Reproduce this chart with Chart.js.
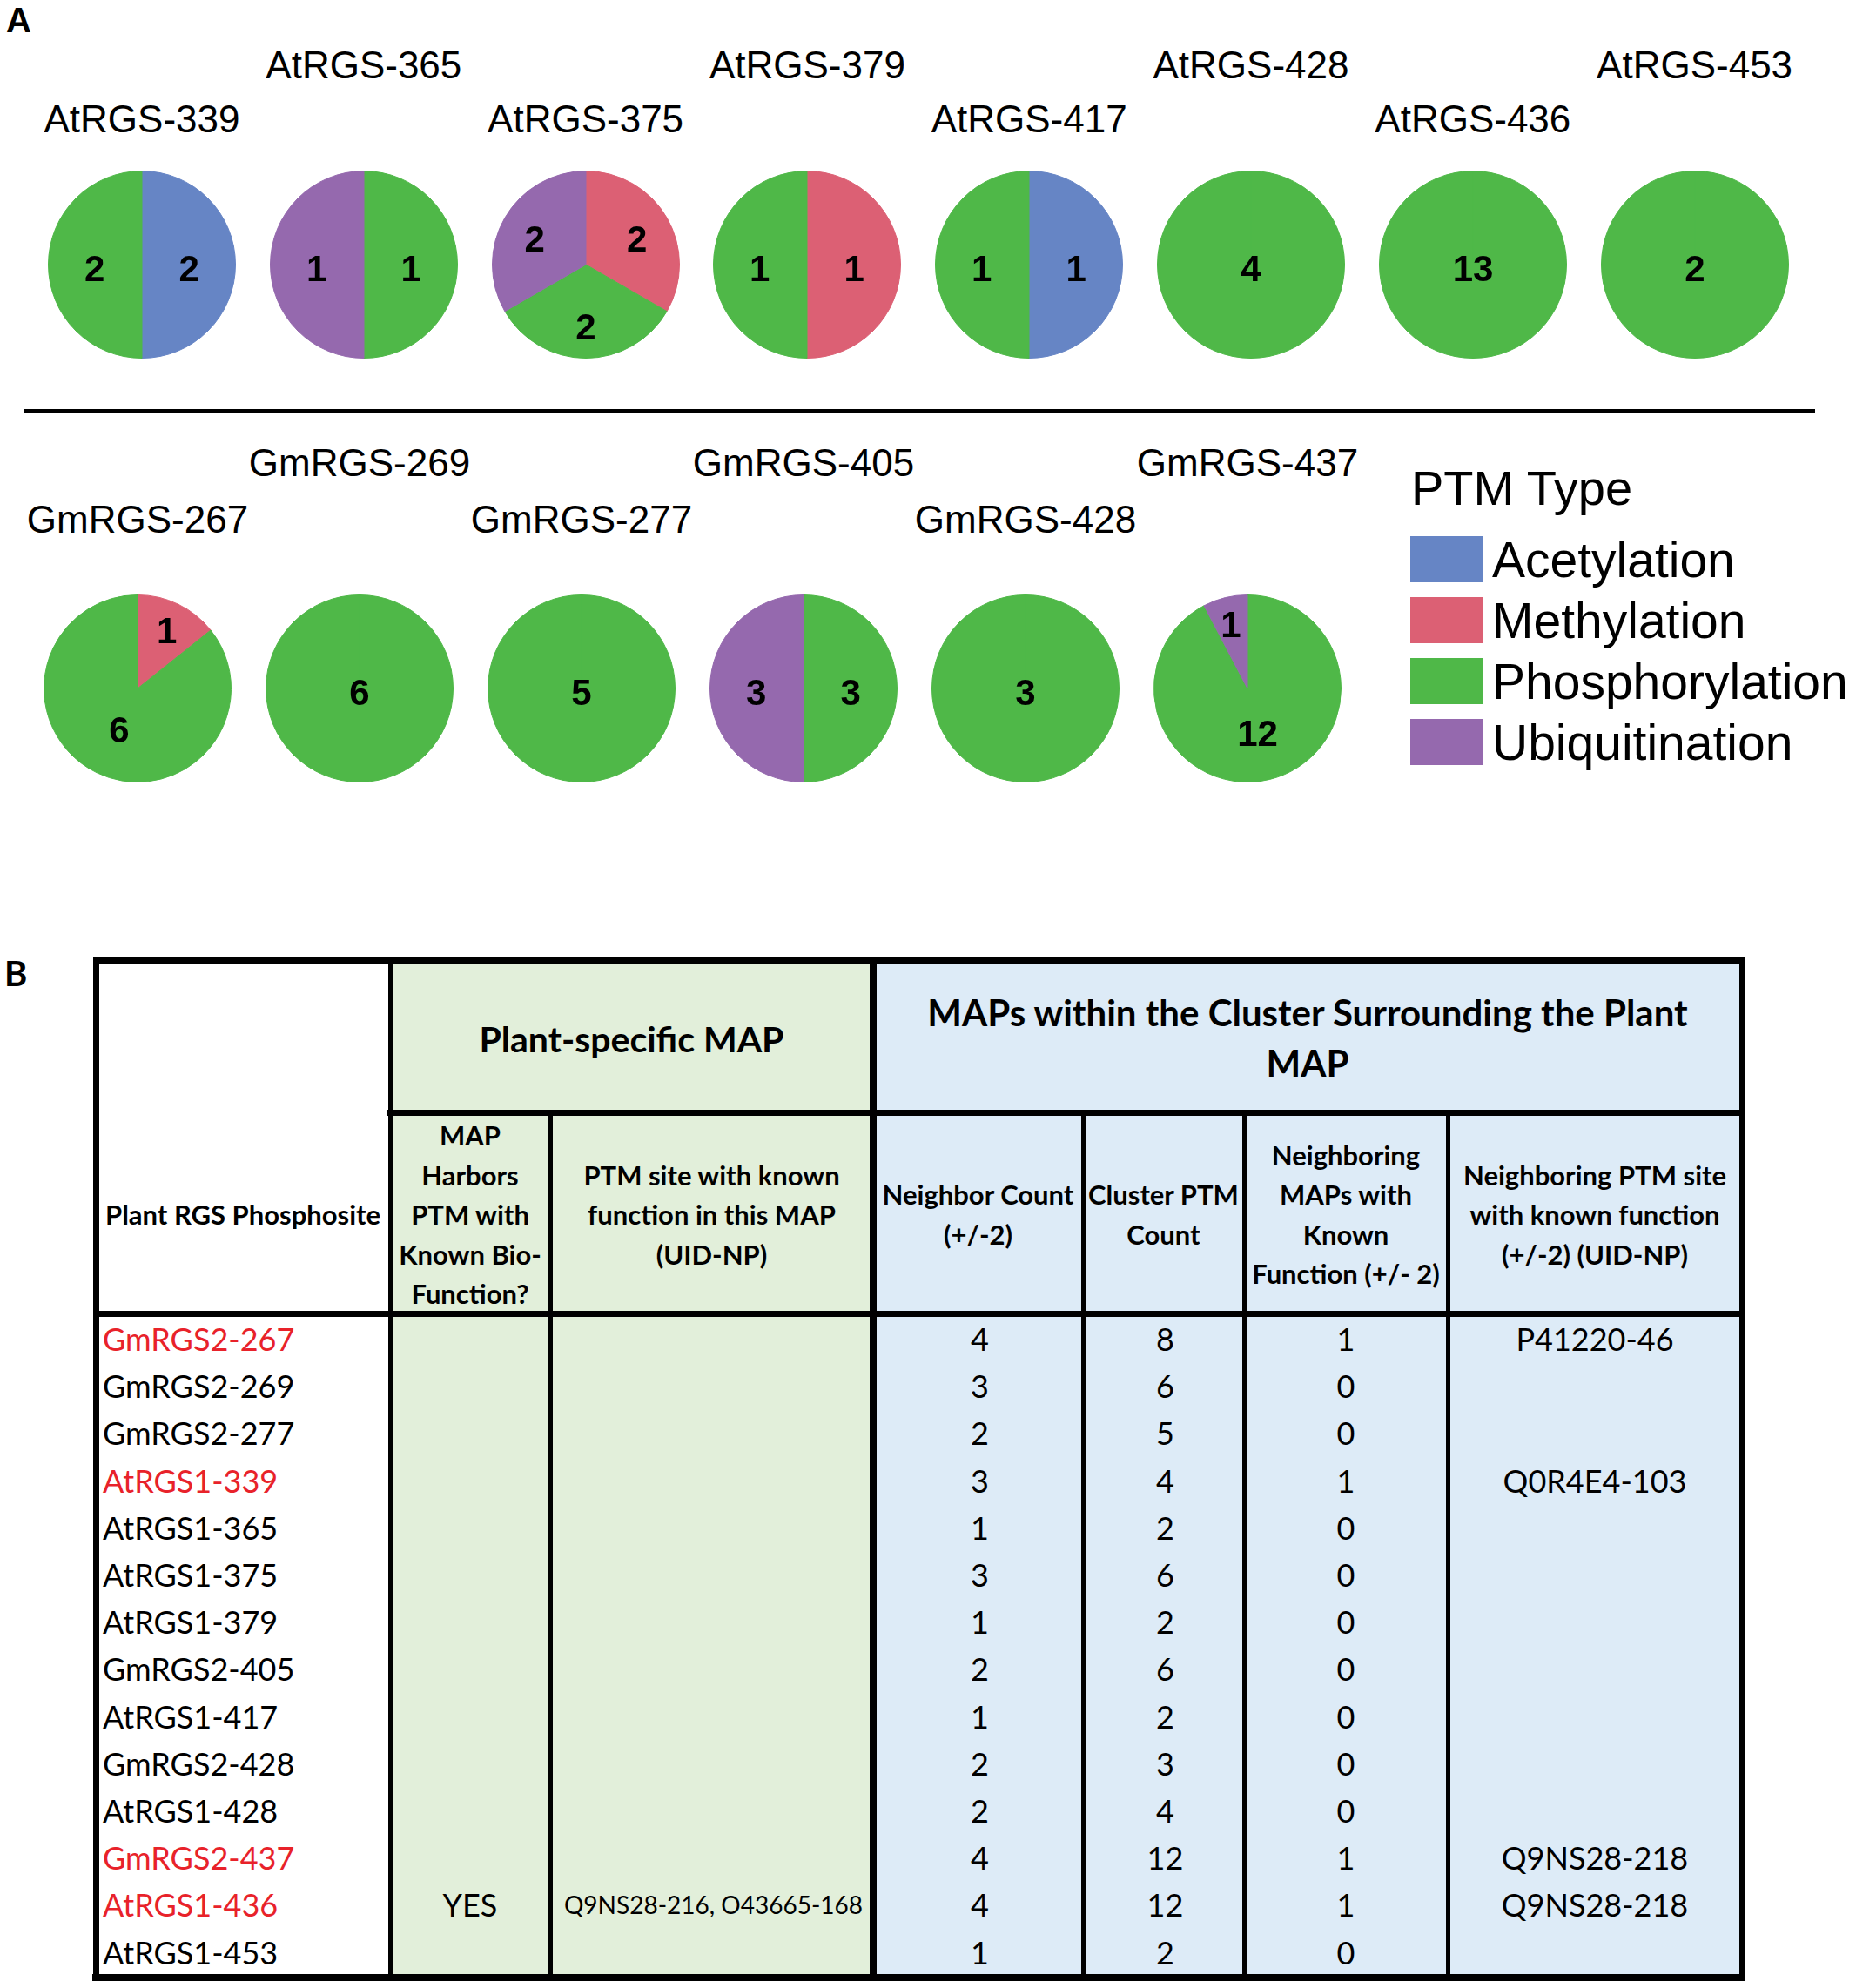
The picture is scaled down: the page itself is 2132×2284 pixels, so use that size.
<!DOCTYPE html>
<html>
<head>
<meta charset="utf-8">
<title>RGS PTM pies</title>
<script src="https://cdn.jsdelivr.net/npm/chart.js@4.4.0/dist/chart.umd.min.js"></script>
<style>
html, body { margin: 0; padding: 0; background: #fff; }
#page {
    position: relative;
    width: 2132px;
    height: 2284px;
    overflow: hidden;
    font-family: "Liberation Sans", Arial, sans-serif;
    color: #000;
}
.abs { position: absolute; white-space: nowrap; line-height: 1; }
.ctr { transform: translate(-50%, -50%); }
.mid { transform: translateY(-50%); }
.site { font-size: 44px; }
.panel { font-weight: bold; font-size: 40px; }
canvas.pie { position: absolute; }
.swatch { position: absolute; width: 84px; height: 53px; }
.legend-text { font-size: 57px; }
.tbl { font-family: Lato, "Open Sans", sans-serif; }
.hd { font-weight: bold; }
.rect { position: absolute; }
</style>
</head>
<body>
<div id="page"></div>

<script>

/* PTM types */

const ptmTypes = ["Acetylation", "Methylation", "Phosphorylation", "Ubiquitination"];
const ptmColors = ["#6685c5", "#dc6074", "#4fb848", "#9569ae"];


/* Arabidopsis pies (A, top row) */

const atSites = ["AtRGS-339", "AtRGS-365", "AtRGS-375", "AtRGS-379",
                 "AtRGS-417", "AtRGS-428", "AtRGS-436", "AtRGS-453"];
const atAcetylation     = [2, 0, 0, 0, 1, 0, 0, 0];
const atMethylation     = [0, 0, 2, 1, 0, 0, 0, 0];
const atPhosphorylation = [2, 1, 2, 1, 1, 4, 13, 2];
const atUbiquitination  = [0, 1, 2, 0, 0, 0, 0, 0];


/* Soybean pies (A, bottom row) */

const gmSites = ["GmRGS-267", "GmRGS-269", "GmRGS-277",
                 "GmRGS-405", "GmRGS-428", "GmRGS-437"];
const gmAcetylation     = [0, 0, 0, 0, 0, 0];
const gmMethylation     = [1, 0, 0, 0, 0, 0];
const gmPhosphorylation = [6, 6, 5, 3, 3, 12];
const gmUbiquitination  = [0, 0, 0, 3, 0, 1];


/* Table (B) */

const phosphosites = ["GmRGS2-267", "GmRGS2-269", "GmRGS2-277", "AtRGS1-339", "AtRGS1-365",
                      "AtRGS1-375", "AtRGS1-379", "GmRGS2-405", "AtRGS1-417", "GmRGS2-428",
                      "AtRGS1-428", "GmRGS2-437", "AtRGS1-436", "AtRGS1-453"];
const highlighted     = [true, false, false, true, false, false, false, false, false, false, false, true, true, false];
const harborsKnown    = ["", "", "", "", "", "", "", "", "", "", "", "", "YES", ""];
const knownSites      = ["", "", "", "", "", "", "", "", "", "", "", "", "Q9NS28-216, O43665-168", ""];
const neighborCount   = [4, 3, 2, 3, 1, 3, 1, 2, 1, 2, 2, 4, 4, 1];
const clusterPtmCount = [8, 6, 5, 4, 2, 6, 2, 6, 2, 3, 4, 12, 12, 2];
const neighborKnown   = [1, 0, 0, 1, 0, 0, 0, 0, 0, 0, 0, 1, 1, 0];
const neighborSites   = ["P41220-46", "", "", "Q0R4E4-103", "", "", "", "", "", "", "", "Q9NS28-218", "Q9NS28-218", ""];

const subHeaders = [
    ["Plant RGS Phosphosite"],
    ["MAP", "Harbors", "PTM with", "Known Bio-", "Function?"],
    ["PTM site with known", "function in this MAP", "(UID-NP)"],
    ["Neighbor Count", "(+/-2)"],
    ["Cluster PTM", "Count"],
    ["Neighboring", "MAPs with", "Known", "Function (+/- 2)"],
    ["Neighboring PTM site", "with known function", "(+/-2) (UID-NP)"]
];


const page = document.getElementById("page");

function addText(text, x, y, cls, style) {
    const el = document.createElement("div");
    el.className = "abs " + (cls || "");
    el.textContent = text;
    el.style.left = x + "px";
    el.style.top = y + "px";
    if (style) Object.assign(el.style, style);
    page.appendChild(el);
    return el;
}

function addRect(x, y, w, h, color) {
    const el = document.createElement("div");
    el.className = "rect";
    el.style.left = x + "px";
    el.style.top = y + "px";
    el.style.width = w + "px";
    el.style.height = h + "px";
    el.style.background = color;
    page.appendChild(el);
}

function hLine(x1, x2, y, w) { addRect(x1 - w / 2, y - w / 2, x2 - x1 + w, w, "#000"); }
function vLine(x, y1, y2, w) { addRect(x - w / 2, y1 - w / 2, w, y2 - y1 + w, "#000"); }


/* Slice value labels */

const sliceLabels = {
    id: "sliceLabels",
    afterDatasetsDraw(chart) {
        const ctx = chart.ctx;
        const values = chart.data.datasets[0].data;
        ctx.save();
        ctx.font = 'bold 42px "Liberation Sans", Arial, sans-serif';
        ctx.fillStyle = "#000";
        ctx.textAlign = "center";
        ctx.textBaseline = "middle";
        chart.getDatasetMeta(0).data.forEach((arc, i) => {
            if (!values[i]) return;
            const p = arc.getProps(["x", "y", "startAngle", "endAngle", "outerRadius"], true);
            const span = p.endAngle - p.startAngle;
            let dist = 0;
            if (span < Math.PI * 2 - 1e-6) {
                const half = span / 2;
                dist = Math.max(2 * Math.sin(half) / (3 * half) + 0.08, 0.45) * p.outerRadius;
            }
            const mid = (p.startAngle + p.endAngle) / 2;
            ctx.fillText(String(values[i]), p.x + Math.cos(mid) * dist, p.y + Math.sin(mid) * dist + 7);
        });
        ctx.restore();
    }
};


function drawPie(name, values, cx, cy, labelY) {
    const size = 216;
    const canvas = document.createElement("canvas");
    canvas.className = "pie";
    canvas.width = size;
    canvas.height = size;
    canvas.style.left = (cx - size / 2) + "px";
    canvas.style.top = (cy - size / 2) + "px";
    page.appendChild(canvas);

    new Chart(canvas, {
        type: "pie",
        data: {
            labels: ptmTypes,
            datasets: [{
                data: values,
                backgroundColor: ptmColors,
                borderColor: ptmColors,
                borderWidth: c => (c.raw > 0 ? 1 : 0)
            }]
        },
        options: {
            responsive: false,
            animation: false,
            devicePixelRatio: 1,
            events: [],
            layout: { padding: 0 },
            plugins: {
                legend: { display: false },
                tooltip: { enabled: false }
            }
        },
        plugins: [sliceLabels]
    });

    addText(name, cx, labelY, "site ctr");
}


/* Panel A */

addText("A", 7, 3, "panel");

atSites.forEach((name, i) => {
    const values = [atAcetylation[i], atMethylation[i], atPhosphorylation[i], atUbiquitination[i]];
    drawPie(name, values, 163 + i * 254.8, 304, i % 2 === 0 ? 137 : 75);
});

hLine(30, 2083, 472, 4);

gmSites.forEach((name, i) => {
    const values = [gmAcetylation[i], gmMethylation[i], gmPhosphorylation[i], gmUbiquitination[i]];
    drawPie(name, values, 158 + i * 255, 791, i % 2 === 0 ? 597 : 532);
});


/* Legend */

addText("PTM Type", 1621, 561, "mid", { fontSize: "56px" });
ptmTypes.forEach((t, i) => {
    const top = 616 + i * 70;
    const sw = document.createElement("div");
    sw.className = "swatch";
    sw.style.left = "1620px";
    sw.style.top = top + "px";
    sw.style.background = ptmColors[i];
    page.appendChild(sw);
    addText(t, 1714, top + 27, "legend-text mid");
});


/* Panel B: table */

addText("B", 5, 1098, "panel tbl");

const colX = [110, 448, 632, 1003, 1244, 1429, 1663, 2001];
const tTop = 1103, tMid = 1278, tHead = 1509, tBottom = 2272;
const green = "#e2efda", blue = "#ddebf7";

addRect(colX[1], tTop, colX[3] - colX[1], tBottom - tTop, green);
addRect(colX[3], tTop, colX[7] - colX[3], tBottom - tTop, blue);

hLine(colX[0], colX[7], tTop, 7);
hLine(colX[0], colX[7], tBottom, 8);
vLine(colX[0], tTop, tBottom, 7);
vLine(colX[7], tTop, tBottom, 7);
vLine(colX[1], tTop, tBottom, 5);
vLine(colX[3], tTop, tBottom, 8);
[2, 4, 5, 6].forEach(c => vLine(colX[c], tMid, tBottom, 5));
hLine(colX[1], colX[7], tMid, 7);
hLine(colX[0], colX[7], tHead, 7);

addText("Plant-specific MAP", (colX[1] + colX[3]) / 2, 1193, "tbl hd ctr", { fontSize: "41px" });
addText("MAPs within the Cluster Surrounding the Plant", (colX[3] + colX[7]) / 2, 1163, "tbl hd ctr", { fontSize: "42px" });
addText("MAP", (colX[3] + colX[7]) / 2, 1221, "tbl hd ctr", { fontSize: "42px" });

subHeaders.forEach((lines, c) => {
    const cx = (colX[c] + colX[c + 1]) / 2;
    const first = 1395 - (lines.length - 1) * 45.5 / 2;
    lines.forEach((line, k) => {
        addText(line, cx, first + k * 45.5, "tbl hd ctr", { fontSize: "31px" });
    });
});

phosphosites.forEach((site, r) => {
    const y = 1538 + r * 54.2;
    const cell = { fontSize: "36px" };
    addText(site, 118, y, "tbl mid", Object.assign({}, cell, { color: highlighted[r] ? "#e8222a" : "#000" }));
    if (harborsKnown[r]) addText(harborsKnown[r], (colX[1] + colX[2]) / 2, y, "tbl ctr", cell);
    if (knownSites[r]) addText(knownSites[r], (colX[2] + colX[3]) / 2 + 2, y, "tbl ctr", { fontSize: "28px" });
    addText(String(neighborCount[r]), (colX[3] + colX[4]) / 2 + 2, y, "tbl ctr", cell);
    addText(String(clusterPtmCount[r]), (colX[4] + colX[5]) / 2 + 2, y, "tbl ctr", cell);
    addText(String(neighborKnown[r]), (colX[5] + colX[6]) / 2, y, "tbl ctr", cell);
    if (neighborSites[r]) addText(neighborSites[r], (colX[6] + colX[7]) / 2, y, "tbl ctr", cell);
});

</script>
</body>
</html>
